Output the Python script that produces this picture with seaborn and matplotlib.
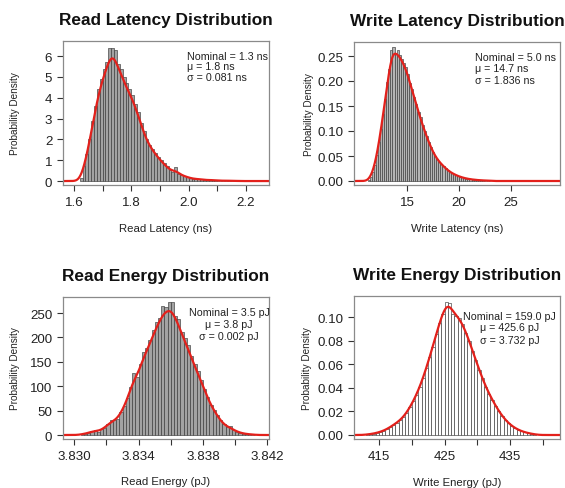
import numpy as np
import pandas as pd
import matplotlib
matplotlib.use("Agg")
import matplotlib.pyplot as plt
import seaborn as sns

# ---------------- data ----------------
titles = ["Read Latency Distribution", "Write Latency Distribution",
          "Read Energy Distribution", "Write Energy Distribution"]
xlabels = ["Read Latency (ns)", "Write Latency (ns)", "Read Energy (pJ)", "Write Energy (pJ)"]
notes = [["Nominal = 1.3 ns", "\u03bc = 1.8 ns", "\u03c3 = 0.081 ns"],
         ["Nominal = 5.0 ns", "\u03bc = 14.7 ns", "\u03c3 = 1.836 ns"],
         ["Nominal = 3.5 pJ", "\u03bc = 3.8 pJ", "\u03c3 = 0.002 pJ"],
         ["Nominal = 159.0 pJ", "\u03bc = 425.6 pJ", "\u03c3 = 3.732 pJ"]]

# histogram: first bin edge, bin width, density of each bin
rl_start, rl_width = 1.62, 0.01
rl_density = [0.15, 0.7, 1.3, 2.0, 2.9, 3.6, 4.4, 4.9, 5.4, 5.7,
              6.4, 6.4, 6.3, 5.6, 5.4, 5.0, 4.7, 4.4, 4.15, 3.7,
              3.3, 2.8, 2.4, 2.0, 1.75, 1.55, 1.35, 1.15, 1.0, 0.85,
              0.7, 0.55, 0.45, 0.65, 0.35, 0.3, 0.25, 0.2, 0.15, 0.12,
              0.1, 0.1, 0.08, 0.06, 0.05, 0.04, 0.06, 0.03, 0.02, 0.02,
              0.015, 0.01, 0.02, 0.01, 0.01]

wl_start, wl_width = 11.2, 0.2
wl_density = [0.002, 0.008, 0.018, 0.032, 0.052, 0.078, 0.105, 0.135, 0.165, 0.198,
              0.225, 0.262, 0.269, 0.255, 0.262, 0.252, 0.245, 0.236, 0.228, 0.214,
              0.197, 0.185, 0.168, 0.155, 0.138, 0.128, 0.113, 0.100, 0.090, 0.078,
              0.068, 0.058, 0.051, 0.044, 0.039, 0.034, 0.030, 0.026, 0.022, 0.019,
              0.016, 0.014, 0.012, 0.010, 0.0085, 0.0072, 0.006, 0.005, 0.0042, 0.0035,
              0.003, 0.0025, 0.002, 0.0017, 0.0014, 0.0012, 0.001, 0.0008, 0.0006]

re_start, re_width = 3.8304, 0.0002
re_density = [2, 3, 4, 8, 10, 6, 12, 15, 22, 31,
              30, 33, 48, 60, 75, 98, 128, 118, 145, 170,
              178, 195, 215, 232, 240, 265, 262, 272, 272, 245,
              238, 212, 198, 185, 162, 145, 132, 112, 95, 78,
              62, 52, 40, 30, 22, 16, 18, 10, 7, 5,
              3, 2, 1.5, 1]

we_start, we_width = 413.0, 0.5
we_density = [0.0005, 0.0008, 0.0012, 0.0018, 0.0028, 0.0035, 0.0050, 0.0068, 0.0085, 0.0105,
              0.0125, 0.0150, 0.0190, 0.0235, 0.0285, 0.0340, 0.0410, 0.0480, 0.0570, 0.0660,
              0.0750, 0.0860, 0.0950, 0.1030, 0.1130, 0.1120, 0.1030, 0.1010, 0.0990, 0.0940,
              0.0870, 0.0800, 0.0710, 0.0640, 0.0550, 0.0480, 0.0410, 0.0350, 0.0300, 0.0250,
              0.0200, 0.0165, 0.0125, 0.0100, 0.0075, 0.0058, 0.0042, 0.0032, 0.0022, 0.0016,
              0.0010, 0.0006]

xticks = [[1.6, 1.7, 1.8, 1.9, 2.0, 2.1, 2.2], [15, 20, 25],
          [3.830, 3.832, 3.834, 3.836, 3.838, 3.840, 3.842], [415, 420, 425, 430, 435, 440]]
xticklabels = [["1.6", "", "1.8", "", "2.0", "", "2.2"], ["15", "20", "25"],
               ["3.830", "", "3.834", "", "3.838", "", "3.842"], ["415", "", "425", "", "435", ""]]
yticks = [[0, 1, 2, 3, 4, 5, 6], [0.00, 0.05, 0.10, 0.15, 0.20, 0.25],
          [0, 50, 100, 150, 200, 250], [0.00, 0.02, 0.04, 0.06, 0.08, 0.10]]
yticklabels = [["0", "1", "2", "3", "4", "5", "6"],
               ["0.00", "0.05", "0.10", "0.15", "0.20", "0.25"],
               ["0", "50", "100", "150", "200", "250"],
               ["0.00", "0.02", "0.04", "0.06", "0.08", "0.10"]]

# ---------------- style / layout ----------------
sns.set_theme(style="white")
plt.rcParams["font.family"] = ["Liberation Sans", "DejaVu Sans"]

W, H = 565, 489
fig = plt.figure(figsize=(W / 100, H / 100), dpi=100)

def rect(l, t, r, b):
    return [l / W, 1 - b / H, (r - l) / W, (b - t) / H]

axes_px = [(63, 42, 269, 186), (354, 43, 560, 186), (63, 298, 269, 440), (354, 297, 560, 440)]
xlims = [(1.562, 2.28), (9.9, 29.7), (3.8293, 3.8421), (411.2, 442.6)]
ylims = [(-0.19, 6.72), (-0.008, 0.278), (-8.2, 283), (-0.0034, 0.118)]
fills = ["#a3a3a3", "#b5b5b5", "#a3a3a3", "#ffffff"]
ylab_x = [-0.233, -0.218, -0.233, -0.228]
note_pos = [(0.603, [0.896, 0.826, 0.75], "left"),
            (0.587, [0.895, 0.818, 0.734], "left"),
            (0.806, [0.894, 0.81, 0.725], "center"),
            (0.755, [0.86, 0.783, 0.692], "center")]

hists = [(rl_start, rl_width, rl_density), (wl_start, wl_width, wl_density),
         (re_start, re_width, re_density), (we_start, we_width, we_density)]

for i in range(4):
    ax = fig.add_axes(rect(*axes_px[i]))
    start, width, dens = hists[i]
    n = len(dens)
    stop = start + width * n
    centers = start + width * (np.arange(n) + 0.5)
    df = pd.DataFrame({"x": centers, "d": dens})
    sns.histplot(data=df, x="x", weights="d", binwidth=width, binrange=(start, stop),
                 stat="count", ax=ax, color=fills[i], edgecolor="#3a3a3a",
                 linewidth=0.45, alpha=1)
    sns.kdeplot(data=df, x="x", weights="d", bw_adjust=0.3, cut=40, gridsize=2000,
                ax=ax, color="#e3201b", linewidth=1.6)
    ax.set_xlim(*xlims[i])
    ax.set_ylim(*ylims[i])
    ax.set_xticks(xticks[i])
    ax.set_xticklabels(xticklabels[i])
    ax.set_yticks(yticks[i])
    ax.set_yticklabels(yticklabels[i])
    ax.tick_params(axis="both", which="major", direction="out", length=4.5, width=0.8,
                   color="#333333", labelsize=9.6, pad=3.2, labelcolor="#222222",
                   bottom=True, left=True)
    for sp in ax.spines.values():
        sp.set_color("#8a8a8a")
        sp.set_linewidth(0.9)
    ax.set_title(titles[i], fontsize=12.4, fontweight="bold", pad=12.5, color="#111111")
    ax.set_xlabel(xlabels[i], fontsize=8.2, color="#222222")
    ax.xaxis.set_label_coords(0.5, -43 / 144)
    ax.xaxis.label.set_va("center")
    ax.set_ylabel("Probability Density", fontsize=7.2, color="#222222")
    ax.yaxis.set_label_coords(ylab_x[i], 0.5)
    ax.yaxis.label.set_va("center")
    nx, nys, ha = note_pos[i]
    for txt, ny in zip(notes[i], nys):
        ax.text(nx, ny, txt, transform=ax.transAxes, fontsize=7.7, ha=ha, va="center",
                color="#222222")

fig.savefig("out.png", dpi=100)
